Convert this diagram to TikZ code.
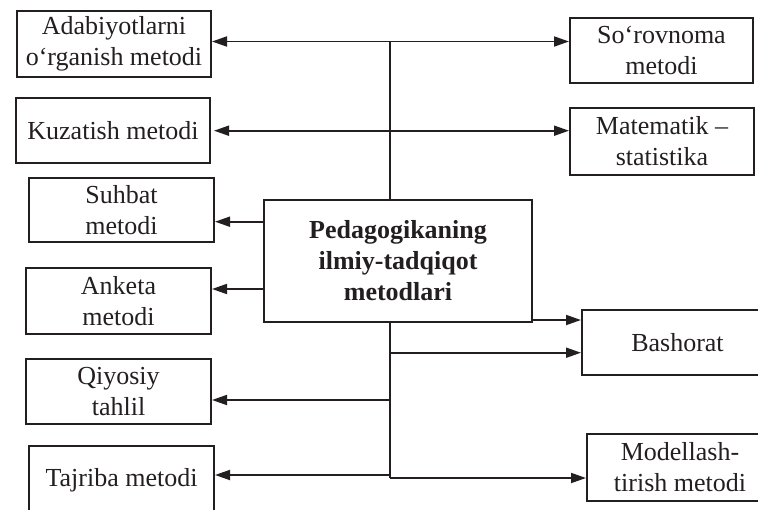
\documentclass[tikz,border=0pt]{standalone}
\usepackage{fontspec}
\setmainfont{Liberation Serif}
\usetikzlibrary{arrows.meta}
\definecolor{ink}{HTML}{231F20}
\begin{document}
\begin{tikzpicture}[x=1pt,y=-1pt,
  box/.style={draw=ink,line width=2pt,align=center,text=ink,
    font=\fontsize{26}{31}\selectfont,inner sep=0pt},
  link/.style={draw=ink,line width=1.8pt},
  arr/.style={link,-{Triangle[length=15pt,width=10pt]}}]
\useasboundingbox (0,0) rectangle (758,509);
\clip (0,0) rectangle (758,509);
% left boxes
\node[box,minimum width=194pt,minimum height=66pt] (A1) at (114,44) {Adabiyotlarni\\o‘rganish metodi};
\node[box,minimum width=194pt,minimum height=65pt] (A2) at (113,130.5) {Kuzatish metodi};
\node[box,minimum width=185pt,minimum height=64pt] (A3) at (121.5,210) {Suhbat\\metodi};
\node[box,minimum width=185pt,minimum height=66pt] (A4) at (118.5,301) {Anketa\\metodi};
\node[box,minimum width=185pt,minimum height=65pt] (A5) at (118.5,391.5) {Qiyosiy\\tahlil};
\node[box,minimum width=185pt,minimum height=68pt] (A6) at (121.5,480) {Tajriba metodi};
% right boxes
\node[box,minimum width=183pt,minimum height=65pt] (B1) at (661.5,50.5) {So‘rovnoma\\metodi};
\node[box,minimum width=184pt,minimum height=67pt] (B2) at (662,141.5) {Matematik –\\statistika};
\node[box,minimum width=191pt,minimum height=65pt] (B3) at (677.5,342.5) {Bashorat};
\node[box,minimum width=186pt,minimum height=67pt] (B4) at (680,467.5) {Modellash-\\tirish metodi};
% centre
\node[box,minimum width=268pt,minimum height=122pt,font=\fontsize{26}{31}\selectfont\bfseries] (C) at (398,261) {Pedagogikaning\\ilmiy-tadqiqot\\metodlari};
% trunk coordinates
\coordinate (t1) at (390,41.5);
\coordinate (t2) at (390,130.7);
\coordinate (s3) at (390,221.7);
\coordinate (s4) at (390,289);
\coordinate (b1) at (390,320);
\coordinate (b2) at (390,352.7);
\coordinate (q5) at (390,400);
\coordinate (q6) at (390,475);
\coordinate (tb) at (390,478);
% trunk
\draw[link] (t1) -- (t1 |- C.north);
\draw[link] (t1 |- C.south) -- (tb);
% arrows
\draw[arr] (t1) -- (t1 -| A1.east);
\draw[arr] (t1) -- (t1 -| B1.west);
\draw[arr,shorten >=3pt] (t2) -- (t2 -| A2.east);
\draw[arr] (t2) -- (t2 -| B2.west);
\draw[arr] (s3 -| C.west) -- (s3 -| A3.east);
\draw[arr] (s4 -| C.west) -- (s4 -| A4.east);
\draw[arr] (b1 -| C.east) -- (b1 -| B3.west);
\draw[arr] (b2) -- (b2 -| B3.west);
\draw[arr] (q5) -- (q5 -| A5.east);
\draw[arr] (q6) -- (q6 -| A6.east);
\draw[arr] (tb) -- (tb -| B4.west);
\end{tikzpicture}
\end{document}
